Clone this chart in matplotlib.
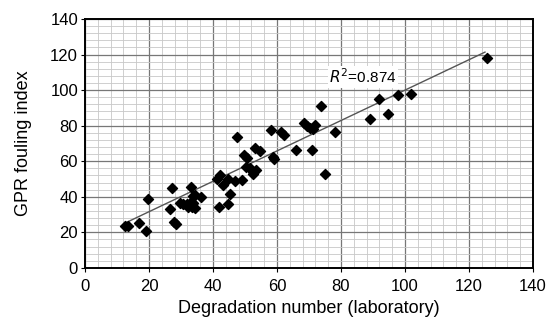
import numpy as np
import matplotlib.pyplot as plt
from matplotlib.ticker import MultipleLocator

plt.rcParams['font.family'] = ['Liberation Sans', 'DejaVu Sans']

# data
degradation = [12.5, 13.5, 17.0, 19.0, 19.6, 26.6, 27.1, 27.8, 28.3, 29.8,
               30.5, 31.8, 32.8, 32.3, 33.3, 33.9, 34.4, 33.1, 33.9, 34.4,
               36.2, 41.9, 41.3, 42.2, 43.2, 44.8, 45.3, 44.8, 46.9, 49.0,
               47.6, 49.8, 50.6, 50.2, 51.6, 52.6, 53.3, 52.6, 53.1, 54.7,
               58.0, 58.8, 59.2, 61.2, 62.2, 65.9, 68.3, 69.5, 70.3, 71.9,
               71.4, 71.0, 73.8, 75.1, 78.1, 89.0, 91.9, 94.8, 97.9, 101.9,
               125.5]
gpr_index = [23.8, 23.8, 25.5, 21.0, 38.5, 33.0, 45.0, 25.6, 24.5, 36.7,
             36.0, 35.8, 36.3, 34.5, 34.5, 36.3, 33.5, 45.3, 40.2, 41.0,
             40.0, 34.0, 49.8, 52.3, 46.6, 50.2, 41.8, 36.0, 49.0, 49.6,
             73.8, 63.5, 61.6, 57.0, 56.0, 54.2, 55.0, 52.8, 67.5, 66.0,
             77.3, 62.6, 61.2, 76.7, 74.8, 66.2, 81.3, 79.6, 78.5, 80.6,
             78.0, 66.3, 91.0, 53.0, 76.2, 84.0, 94.8, 86.3, 97.2, 97.8,
             117.8]

# trend line as drawn
slope = 0.855
intercept = 14.5
fit_range = [13.0, 125.0]
r2_label = "$R^2$=0.874"

fig = plt.figure(figsize=(5.59, 3.22), dpi=100)
ax = fig.add_axes([0.152, 0.168, 0.8015, 0.773])

fx = np.array(fit_range)
ax.plot(fx, slope * fx + intercept, color='#555555', lw=1.0, zorder=3)
ax.scatter(degradation, gpr_index, marker='D', s=26, color='black', zorder=4)

ax.set_xlim(0, 140)
ax.set_ylim(0, 140)
ax.xaxis.set_major_locator(MultipleLocator(20))
ax.yaxis.set_major_locator(MultipleLocator(20))
ax.xaxis.set_minor_locator(MultipleLocator(4))
ax.yaxis.set_minor_locator(MultipleLocator(4))
ax.grid(which='major', color='#777777', lw=0.9, zorder=1)
ax.grid(which='minor', color='#c8c8c8', lw=0.6, zorder=0)
ax.set_axisbelow(True)
ax.tick_params(which='major', length=3, width=0.8, labelsize=12, pad=2)
ax.tick_params(axis='x', which='major', pad=5)
ax.tick_params(which='minor', length=0)
for sp in ax.spines.values():
    sp.set_linewidth(1.4)

ax.set_xlabel("Degradation number (laboratory)", fontsize=13, labelpad=4)
ax.set_ylabel("GPR fouling index", fontsize=13, labelpad=13)
ax.text(76.3, 107.5, r2_label, fontsize=11, va='center', ha='left',
        bbox=dict(facecolor='white', edgecolor='none', pad=1), zorder=5)

fig.savefig("out.png", dpi=100)
